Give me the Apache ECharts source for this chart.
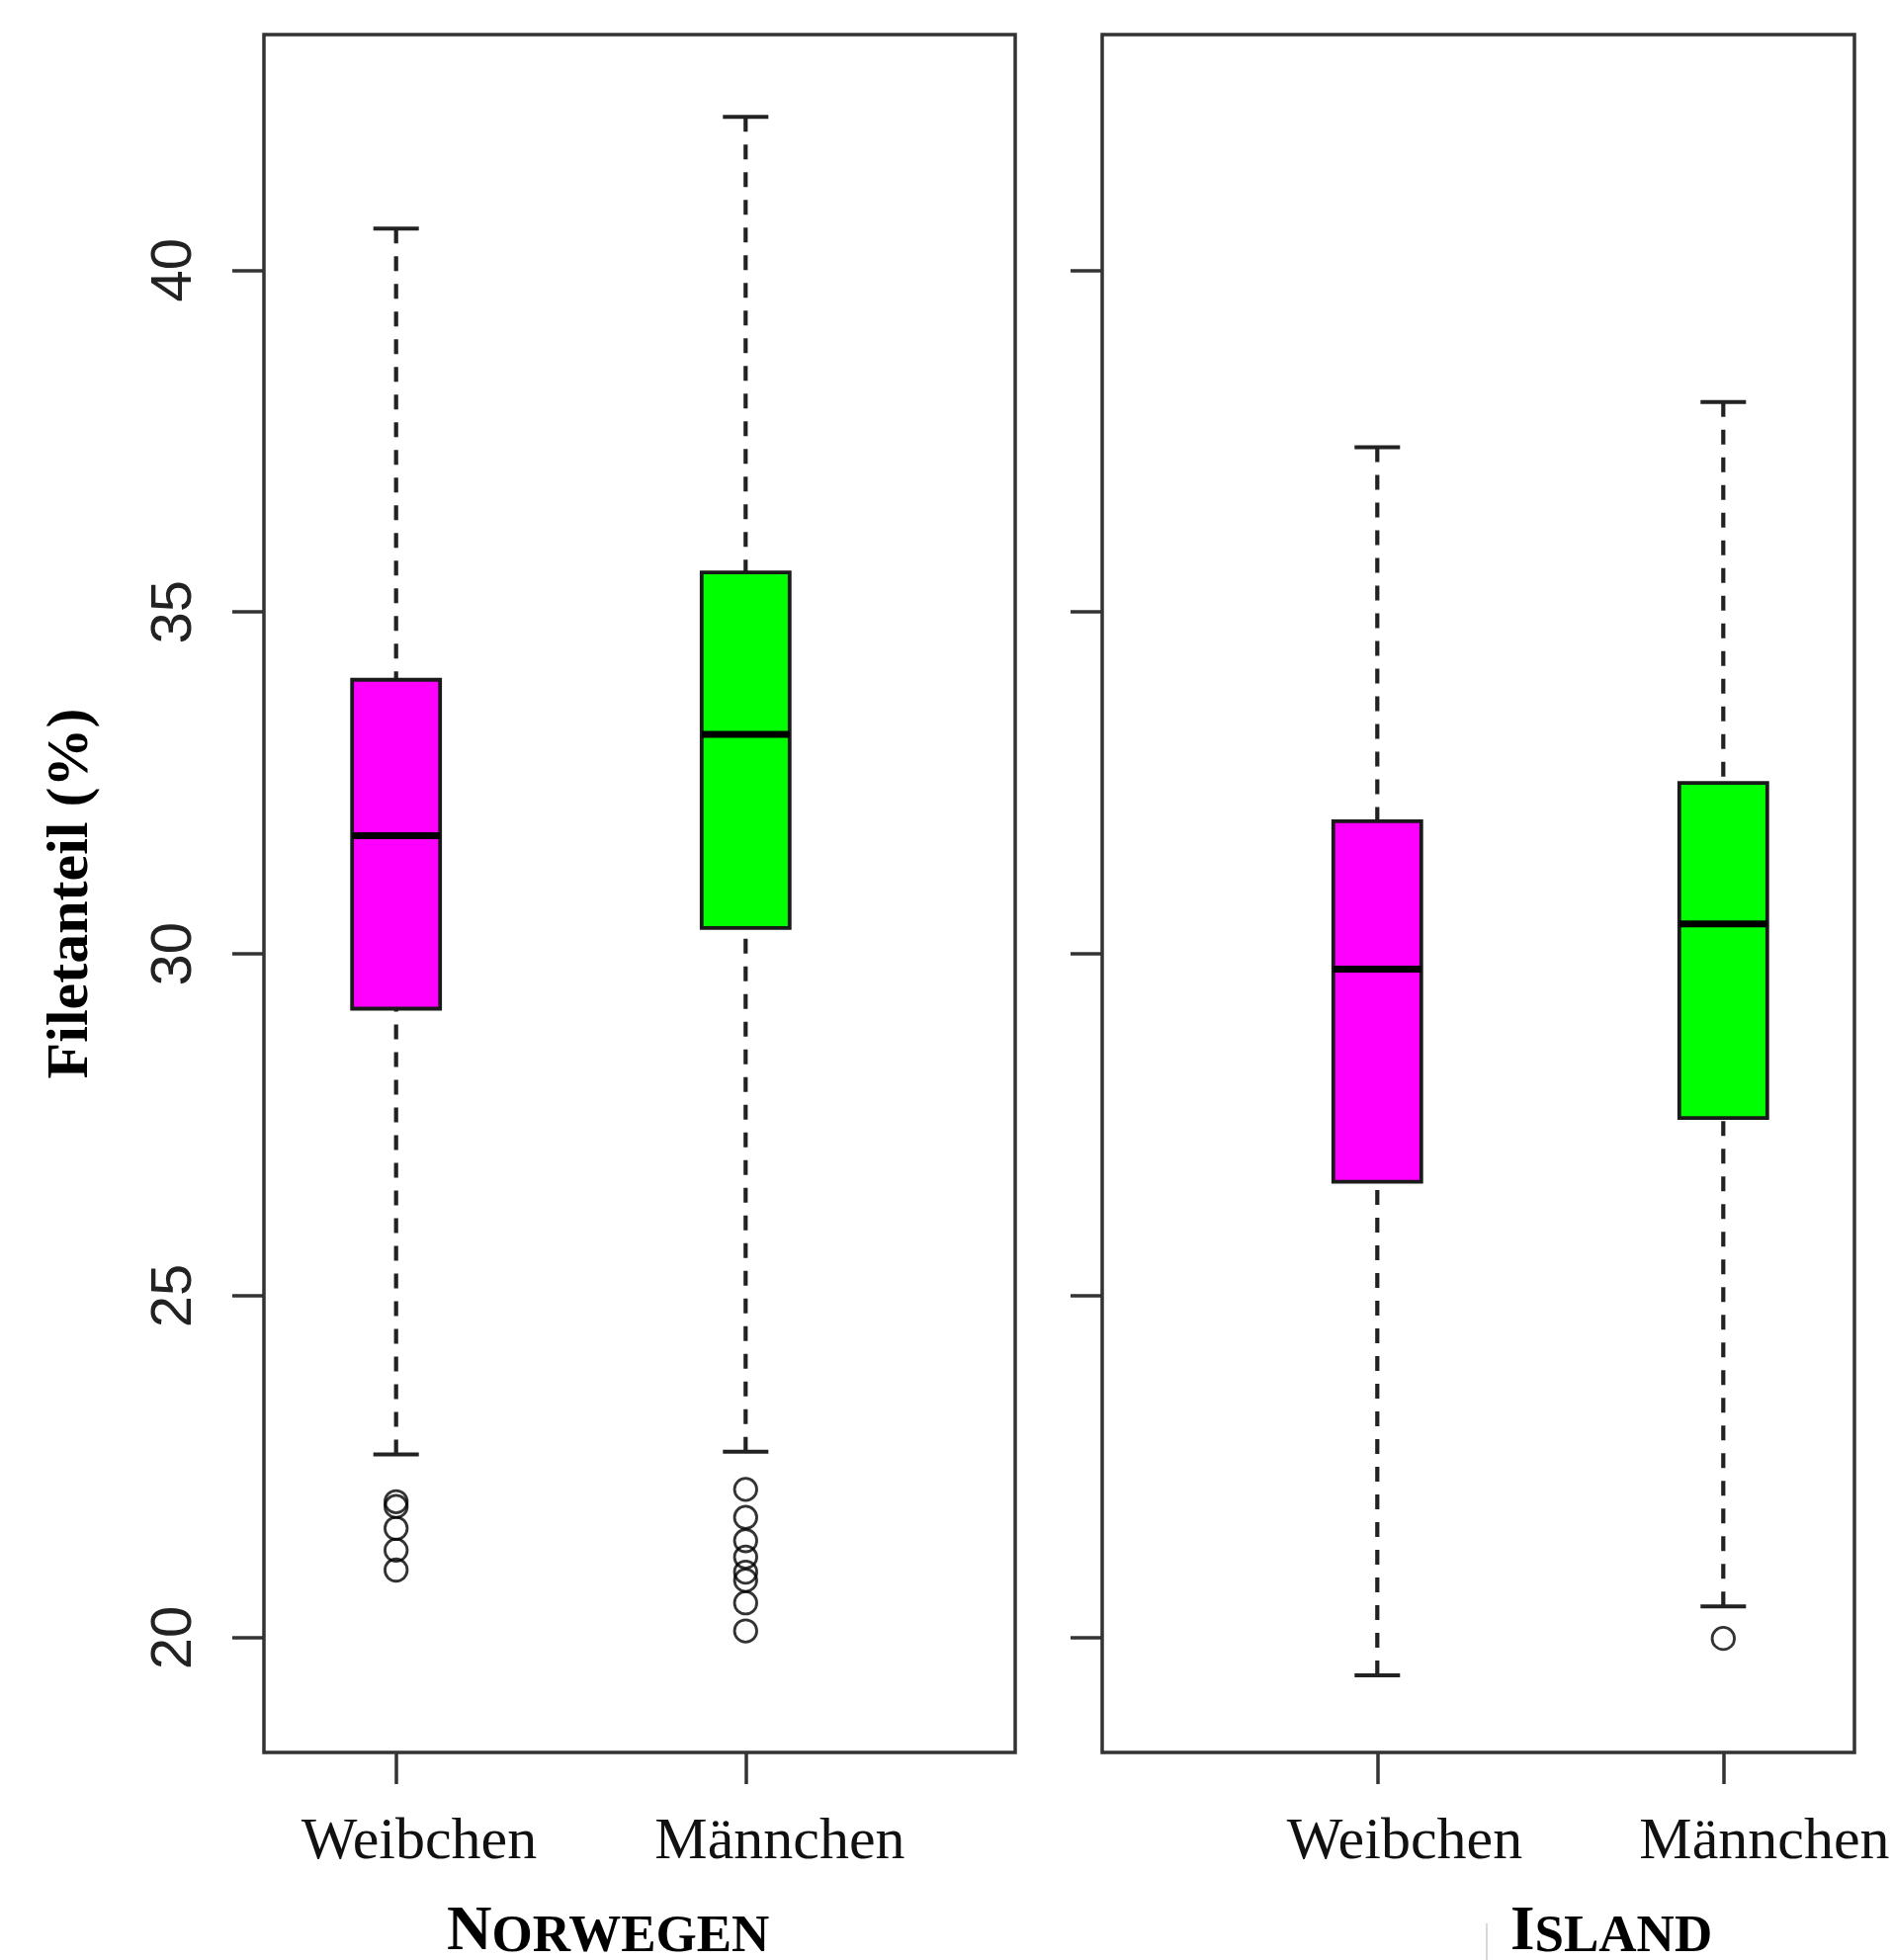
<!DOCTYPE html>
<html>
<head>
<meta charset="utf-8">
<script src="https://cdn.jsdelivr.net/npm/echarts@6/dist/echarts.min.js"></script>
<style>
html, body { margin: 0; padding: 0; background: #ffffff; }
#chart { width: 1915px; height: 1983px; }
</style>
</head>
<body>
<div id="chart"></div>
<script>
// ---------------- data ----------------
const categories = ['Weibchen', 'Männchen'];
const yTicks = [20, 25, 30, 35, 40];

// Norwegen
const norwayLower  = [22.68, 22.72];
const norwayQ1     = [29.20, 30.38];
const norwayMedian = [31.73, 33.21];
const norwayQ3     = [34.01, 35.58];
const norwayUpper  = [40.61, 42.24];
const norwayOutliersWeibchen  = [21.99, 21.92, 21.60, 21.28, 20.99];
const norwayOutliersMaennchen = [22.17, 21.76, 21.42, 21.18, 20.96, 20.84, 20.51, 20.10];

// Island
const icelandLower  = [19.45, 20.46];
const icelandQ1     = [26.67, 27.60];
const icelandMedian = [29.78, 30.44];
const icelandQ3     = [31.94, 32.50];
const icelandUpper  = [37.41, 38.07];
const icelandOutliersWeibchen  = [];
const icelandOutliersMaennchen = [19.99];

const boxColors = ['#ff00ff', '#00ff00'];

// ---------------- helpers ----------------
function boxRows(lower, q1, med, q3, upper) {
  return categories.map((c, i) => [i + 1, lower[i], q1[i], med[i], q3[i], upper[i]]);
}
function outlierRows(w, m) {
  return w.map(v => [1, v]).concat(m.map(v => [2, v]));
}

const FRAME = '#333333';
const BOX_HALF = 44.5;
const CAP_HALF = 23;

function renderBox(params, api) {
  const x = api.value(0);
  const lo = api.coord([x, api.value(1)]);
  const q1 = api.coord([x, api.value(2)]);
  const md = api.coord([x, api.value(3)]);
  const q3 = api.coord([x, api.value(4)]);
  const hi = api.coord([x, api.value(5)]);
  const cx = lo[0];
  const dash = { stroke: '#222', lineWidth: 4.2, lineDash: [15, 13] };
  const solid = { stroke: '#222', lineWidth: 4 };
  return {
    type: 'group',
    children: [
      { type: 'line', shape: { x1: cx, y1: hi[1], x2: cx, y2: q3[1] }, style: dash },
      { type: 'line', shape: { x1: cx, y1: lo[1], x2: cx, y2: q1[1] }, style: dash },
      { type: 'line', shape: { x1: cx - CAP_HALF, y1: hi[1], x2: cx + CAP_HALF, y2: hi[1] }, style: solid },
      { type: 'line', shape: { x1: cx - CAP_HALF, y1: lo[1], x2: cx + CAP_HALF, y2: lo[1] }, style: solid },
      { type: 'rect', shape: { x: cx - BOX_HALF, y: q3[1], width: 2 * BOX_HALF, height: q1[1] - q3[1] },
        style: { fill: boxColors[params.dataIndex], stroke: '#1a1a1a', lineWidth: 3.8 } },
      { type: 'line', shape: { x1: cx - BOX_HALF, y1: md[1], x2: cx + BOX_HALF, y2: md[1] },
        style: { stroke: '#000', lineWidth: 7 } }
    ]
  };
}

function xAxisCfg(gridIndex, min, max, labelPos) {
  return {
    gridIndex: gridIndex, type: 'value', min: min, max: max,
    axisLine: { show: false },
    splitLine: { show: false },
    axisTick: { show: true, customValues: [1, 2], length: 32, inside: false,
      lineStyle: { color: FRAME, width: 3.5 } },
    axisLabel: {
      customValues: labelPos,
      formatter: v => categories[Math.round(v) - 1],
      margin: 61,
      fontFamily: '"Liberation Serif", "DejaVu Serif", serif',
      fontSize: 60, color: '#111'
    }
  };
}
function yAxisCfg(gridIndex, showLabels) {
  const cfg = {
    gridIndex: gridIndex, type: 'value', min: 18.323, max: 43.445,
    axisLine: { show: false },
    splitLine: { show: false },
    axisTick: { show: true, customValues: yTicks, length: 32, inside: false,
      lineStyle: { color: FRAME, width: 3.5 } },
    axisLabel: showLabels ? {
      customValues: yTicks, rotate: 90, margin: 61,
      fontFamily: '"Liberation Sans", Arial, sans-serif',
      fontSize: 58, color: '#222'
    } : { show: false }
  };
  if (showLabels) {
    cfg.name = 'Filetanteil (%)';
    cfg.nameLocation = 'middle';
    cfg.nameRotate = 90;
    cfg.nameGap = 165;
    cfg.nameTextStyle = {
      fontFamily: '"Liberation Serif", "DejaVu Serif", serif',
      fontWeight: 'bold', fontSize: 60, color: '#000'
    };
  }
  return cfg;
}

const titleRich = {
  a: { fontFamily: '"Liberation Serif", serif', fontWeight: 'bold', fontSize: 63, lineHeight: 63, color: '#000', verticalAlign: 'bottom' },
  b: { fontFamily: '"Liberation Serif", serif', fontWeight: 'bold', fontSize: 53, lineHeight: 53, color: '#000', verticalAlign: 'bottom' }
};

const option = {
  backgroundColor: '#ffffff',
  animation: false,
  title: [
    { text: '{a|N}{b|ORWEGEN}', left: 452, top: 1924, padding: 0, textStyle: { rich: titleRich } },
    { text: '{a|I}{b|SLAND}', left: 1528, top: 1924, padding: 0, textStyle: { rich: titleRich } }
  ],
  grid: [
    { left: 267, top: 35, width: 760, height: 1738, show: true, borderColor: FRAME, borderWidth: 3.5,
      backgroundColor: 'transparent', outerBoundsMode: 'none', containLabel: false },
    { left: 1115, top: 35, width: 761, height: 1738, show: true, borderColor: FRAME, borderWidth: 3.5,
      backgroundColor: 'transparent', outerBoundsMode: 'none', containLabel: false }
  ],
  xAxis: [
    xAxisCfg(0, 0.6219, 2.7712, [1.066, 2.098]),
    xAxisCfg(1, 0.2049, 2.3791, [1.079, 2.119])
  ],
  yAxis: [
    yAxisCfg(0, true),
    yAxisCfg(1, false)
  ],
  graphic: [
    { type: 'line', shape: { x1: 1504, y1: 1946, x2: 1504, y2: 1983 }, style: { stroke: '#d8d8d8', lineWidth: 2 } }
  ],
  series: [
    { type: 'custom', name: 'Norwegen', xAxisIndex: 0, yAxisIndex: 0,
      data: boxRows(norwayLower, norwayQ1, norwayMedian, norwayQ3, norwayUpper),
      encode: { x: 0, y: [1, 2, 3, 4, 5] }, renderItem: renderBox },
    { type: 'custom', name: 'Island', xAxisIndex: 1, yAxisIndex: 1,
      data: boxRows(icelandLower, icelandQ1, icelandMedian, icelandQ3, icelandUpper),
      encode: { x: 0, y: [1, 2, 3, 4, 5] }, renderItem: renderBox },
    { type: 'scatter', xAxisIndex: 0, yAxisIndex: 0,
      data: outlierRows(norwayOutliersWeibchen, norwayOutliersMaennchen),
      symbol: 'circle', symbolSize: 22.5,
      itemStyle: { color: 'transparent', borderColor: '#000', borderWidth: 2.8 } },
    { type: 'scatter', xAxisIndex: 1, yAxisIndex: 1,
      data: outlierRows(icelandOutliersWeibchen, icelandOutliersMaennchen),
      symbol: 'circle', symbolSize: 22.5,
      itemStyle: { color: 'transparent', borderColor: '#000', borderWidth: 2.8 } }
  ]
};

const chart = echarts.init(document.getElementById('chart'), null, { renderer: 'canvas' });
chart.setOption(option);
</script>
</body>
</html>
